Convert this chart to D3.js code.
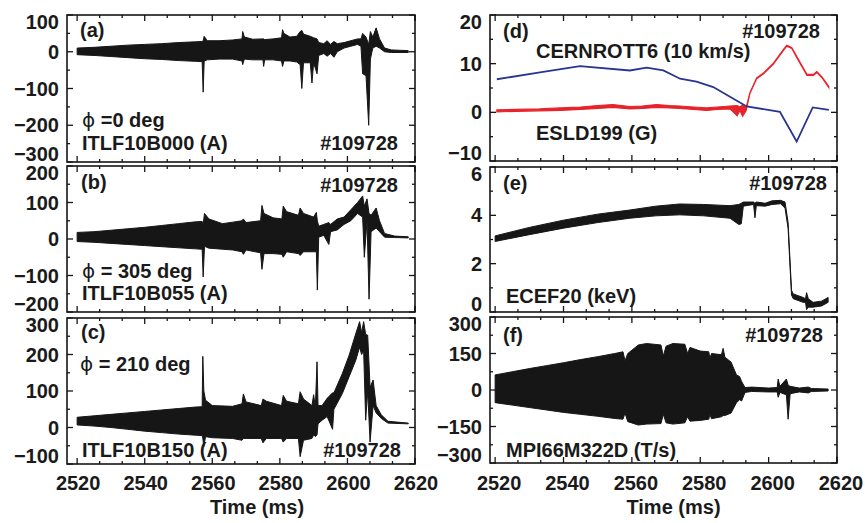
<!DOCTYPE html>
<html>
<head>
<meta charset="utf-8">
<script src="https://cdn.jsdelivr.net/npm/d3@7"></script>
<style>
  body { margin: 0; background: #fff; }
  text { font-family: 'Liberation Sans', Arial, Helvetica, sans-serif; font-weight: bold; fill: #1a1a1a; }
  .phi { font-family: 'DejaVu Sans', sans-serif; font-weight: normal; }
</style>
</head>
<body>
<svg id="chart" width="865" height="523"></svg>
<script>
// ---- data (envelopes of the fast-oscillating signals) ----

// (a) ITLF10B000, phi = 0 deg
const timeA = [2520, 2525, 2530, 2535, 2540, 2545, 2550, 2555, 2557, 2557.3, 2557.6, 2558.5, 2562, 2566, 2568.8, 2569, 2569.5, 2572, 2575, 2575.2, 2575.5, 2578, 2580.5, 2580.8, 2581.2, 2583, 2585, 2586, 2586.5, 2587, 2589, 2589.5, 2590, 2591, 2591.5, 2593, 2594, 2595, 2596, 2597, 2599, 2601, 2603, 2604, 2604.5, 2605.5, 2606.3, 2606.8, 2607.5, 2608.5, 2609.5, 2611, 2613, 2618];
const hiA = [10, 12, 15, 18, 20, 22, 25, 27, 28, 30, 42, 30, 30, 32, 35, 55, 40, 34, 35, 35, 33, 35, 38, 60, 50, 40, 42, 55, 58, 48, 42, 40, 38, 35, 25, 22, 30, 20, 28, 22, 25, 30, 35, 35, 50, 40, 20, 55, 40, 65, 35, 10, 5, 3];
const loA = [-8, -10, -13, -16, -19, -21, -24, -26, -27, -110, -25, -22, -20, -20, -25, -35, -20, -22, -22, -40, -22, -22, -25, -40, -25, -25, -28, -35, -100, -30, -30, -85, -30, -60, -10, -5, -12, -5, -15, 0, 10, 15, 20, 15, -60, -65, -200, -20, 10, 15, 10, 0, -2, -2];

// (b) ITLF10B055, phi = 305 deg
const timeB = [2520, 2525, 2530, 2535, 2540, 2545, 2550, 2555, 2557, 2557.3, 2557.7, 2559, 2563, 2566, 2568.8, 2569.2, 2570, 2574.3, 2574.7, 2575.3, 2578, 2580.6, 2581, 2582, 2585.5, 2586, 2587, 2590, 2590.8, 2591.1, 2591.5, 2593, 2594.5, 2595, 2597, 2599, 2601, 2603, 2604.5, 2605, 2605.8, 2606.4, 2607, 2608.5, 2609.5, 2611, 2614, 2618];
const hiB = [18, 20, 24, 28, 32, 37, 42, 47, 48, 40, 70, 55, 42, 46, 50, 55, 45, 50, 92, 70, 58, 55, 90, 75, 65, 85, 70, 60, 73, 50, 35, 40, 45, 40, 55, 60, 80, 100, 118, 90, 110, 70, 65, 85, 50, 15, 8, 6];
const loB = [-7, -9, -12, -15, -18, -21, -24, -27, -28, -104, -20, -25, -28, -30, -35, -42, -30, -38, -83, -40, -40, -42, -50, -35, -40, -45, -35, -35, -35, -140, 5, 10, -15, 20, 25, 40, 50, 70, 60, -50, 50, -165, 20, 30, 20, 5, 4, 3];

// (c) ITLF10B150, phi = 210 deg
const timeC = [2520, 2525, 2530, 2535, 2540, 2545, 2550, 2555, 2557, 2557.2, 2557.5, 2558, 2560, 2566, 2568.8, 2569.2, 2570, 2574.5, 2575, 2576, 2580.5, 2581, 2582, 2585.5, 2586, 2587, 2589.5, 2590, 2590.5, 2591, 2591.3, 2592.5, 2594, 2595.6, 2596, 2598.5, 2600.5, 2602.5, 2603.6, 2604.2, 2604.8, 2605.4, 2606, 2606.7, 2607.6, 2608.5, 2610, 2612, 2618];
const hiC = [28, 32, 36, 40, 44, 48, 52, 56, 57, 195, 100, 75, 60, 58, 65, 92, 70, 60, 78, 72, 60, 88, 72, 65, 98, 78, 60, 90, 55, 180, 60, 60, 80, 95, 95, 148, 198, 258, 290, 260, 290, 255, 253, 110, 130, 60, 35, 17, 12];
const loC = [7, 4, 0, -5, -10, -14, -18, -21, -22, -30, -52, -25, -28, -30, -35, -30, -30, -30, -42, -30, -30, -40, -30, -30, -80, -35, -30, -20, -25, -20, 10, 20, 30, -5, 50, 93, 139, 185, 220, 200, 210, 20, 100, -40, 60, 40, 25, 12, 10];

// (d) CERNROTT6 (10 km/s), blue
const timeRot = [2520.5, 2533.1, 2544.8, 2559.4, 2564.3, 2569.2, 2574.1, 2578.9, 2583.8, 2588.7, 2593.6, 2603.3, 2608.2, 2612.9, 2617.6];
const rot = [6.8, 8.2, 9.5, 8.6, 9.2, 8.6, 6.9, 6.3, 5.2, 3.2, 1.2, 0.1, -6.0, 1.0, 0.5];

// (d) ESLD199 (G), red
const timeEsld = [2520.5, 2526, 2533, 2539, 2545, 2550, 2554.5, 2559.4, 2563, 2567.2, 2571, 2574.1, 2578, 2581.9, 2585, 2588.7, 2590.8, 2591.6, 2592.4, 2593.4, 2594.5, 2596.5, 2598.5, 2601.4, 2604.3, 2605.3, 2606.8, 2608.2, 2611.2, 2613.1, 2614.1, 2615.6, 2617.6];
const esldHi = [0.5, 0.6, 0.7, 0.9, 1.1, 1.4, 1.6, 1.2, 1.3, 1.6, 1.4, 1.3, 1.1, 0.9, 1.1, 1.3, 1.4, 1.1, 1.5, 0.9, 4.0, 7.1, 8.1, 10.1, 12.9, 13.8, 13.3, 11.5, 7.8, 7.8, 8.4, 7.3, 5.3];
const esldLo = [0.1, 0.2, 0.3, 0.4, 0.6, 0.8, 1.0, 0.7, 0.8, 1.0, 0.9, 0.8, 0.6, 0.4, 0.6, 0.7, -0.7, 0.4, -0.8, 0.3, 3.8, 6.9, 7.9, 9.9, 12.7, 13.6, 13.1, 11.3, 7.6, 7.6, 8.2, 7.1, 5.1];

// (e) ECEF20 (keV)
const timeE = [2520, 2530, 2540, 2550, 2559.4, 2567, 2574, 2581, 2588.7, 2591.3, 2592, 2592.6, 2595.6, 2596, 2596.4, 2599, 2601, 2603.5, 2604.8, 2605.7, 2606.2, 2606.7, 2607.2, 2610.1, 2610.8, 2611.1, 2611.6, 2613, 2615.5, 2617.4];
const hiE = [3.15, 3.5, 3.8, 4.05, 4.22, 4.38, 4.47, 4.45, 4.4, 4.45, 4.5, 4.55, 4.55, 4.5, 4.55, 4.5, 4.6, 4.62, 4.55, 3.7, 2.3, 0.9, 0.75, 0.6, 0.55, 0.8, 0.55, 0.4, 0.45, 0.6];
const loE = [2.92, 3.2, 3.47, 3.7, 3.88, 3.98, 4.02, 3.98, 3.88, 3.62, 3.65, 4.38, 4.45, 3.9, 4.4, 4.38, 4.45, 4.48, 4.3, 3.45, 2.05, 0.7, 0.55, 0.4, 0.4, 0.1, 0.2, 0.2, 0.25, 0.4];

// (f) MPI66M322D (T/s)
const timeF = [2520, 2525, 2530, 2535, 2540, 2545, 2550, 2555, 2557.4, 2558, 2558.8, 2561.9, 2564.3, 2568.5, 2569.2, 2570, 2572, 2575.5, 2576.3, 2577, 2580, 2582.5, 2582.8, 2583.3, 2586.2, 2586.7, 2587.2, 2589, 2590.6, 2591.5, 2592.1, 2593.1, 2595, 2600, 2602.5, 2602.8, 2603.3, 2605.2, 2605.7, 2606.3, 2609, 2611.6, 2612.5, 2617.4];
const hiF = [62, 75, 88, 100, 112, 125, 137, 150, 157, 120, 150, 185, 191, 185, 140, 180, 191, 188, 150, 175, 160, 157, 130, 150, 145, 171, 135, 115, 62, 55, 35, 10, 12, 8, 10, 45, 15, 45, 20, 15, 8, 12, 6, 4];
const loF = [-52, -62, -72, -82, -92, -100, -108, -117, -120, -95, -130, -144, -140, -138, -100, -135, -140, -135, -110, -128, -125, -120, -100, -118, -110, -105, -105, -95, -52, -40, -45, -10, -6, -8, -8, -30, -10, -20, -120, -15, -8, -12, -6, -4];

// axis tick labels
const timeTicks = [2520, 2540, 2560, 2580, 2600, 2620];
const ticksA = [-300, -200, -100, 0, 100];
const ticksB = [-200, -100, 0, 100, 200];
const ticksC = [-100, 0, 100, 200, 300];
const ticksD = [-10, 0, 10, 20];
const ticksE = [0, 2, 4, 6];
const ticksF = [-300, -150, 0, 150, 300];

// ---- layout ----
const svg = d3.select('#chart');
const ink = '#161616';

const xLeft = d3.scaleLinear().domain([2517, 2620]).range([67, 415]);
const xRight = d3.scaleLinear().domain([2518.5, 2620]).range([490, 837]);

const panels = [
  {x: xLeft, top: 15, bottom: 162, ticks: ticksA, minor: 50,
   env: [timeA, hiA, loA],
   labels: [
     {t: '(a)', x: 80, y: 37},
     {t: 'ITLF10B000 (A)', x: 82, y: 150},
     {t: '#109728', x: 398, y: 150, anchor: 'end'}
   ], phi: {t: ' =0 deg', x: 82, y: 127}},
  {x: xLeft, top: 166, bottom: 312, ticks: ticksB, minor: 50,
   env: [timeB, hiB, loB],
   labels: [
     {t: '(b)', x: 81, y: 189},
     {t: '#109728', x: 398, y: 192, anchor: 'end'},
     {t: 'ITLF10B055 (A)', x: 82, y: 300}
   ], phi: {t: ' = 305 deg', x: 82, y: 278}},
  {x: xLeft, top: 318, bottom: 464, ticks: ticksC, minor: 50,
   env: [timeC, hiC, loC],
   labels: [
     {t: '(c)', x: 81, y: 339},
     {t: 'ITLF10B150 (A)', x: 82, y: 457},
     {t: '#109728', x: 401, y: 457, anchor: 'end'}
   ], phi: {t: ' = 210 deg', x: 80, y: 371}},
  {x: xRight, top: 15, bottom: 161, ticks: ticksD, minor: 5,
   labels: [
     {t: '(d)', x: 503, y: 38},
     {t: '#109728', x: 820, y: 38, anchor: 'end'},
     {t: 'CERNROTT6 (10 km/s)', x: 536, y: 58},
     {t: 'ESLD199 (G)', x: 536, y: 140}
   ]},
  {x: xRight, top: 167, bottom: 312, ticks: ticksE, minor: 1,
   env: [timeE, hiE, loE],
   labels: [
     {t: '(e)', x: 503, y: 190},
     {t: '#109728', x: 827, y: 190, anchor: 'end'},
     {t: 'ECEF20 (keV)', x: 506, y: 303}
   ]},
  {x: xRight, top: 317, bottom: 463, ticks: ticksF, minor: 75,
   env: [timeF, hiF, loF],
   labels: [
     {t: '(f)', x: 503, y: 342},
     {t: '#109728', x: 823, y: 342, anchor: 'end'},
     {t: 'MPI66M322D (T/s)', x: 506, y: 457}
   ]}
];

const minorTimes = d3.range(16).map(i => 2520 + i * 20 / 3);

panels.forEach((p, i) => {
  const dom = d3.extent(p.ticks);
  p.y = d3.scaleLinear().domain(dom).range([p.bottom, p.top]);
  const g = svg.append('g');
  const [x0, x1] = p.x.range();

  // signal
  if (p.env) {
    const [t, hi, lo] = p.env;
    const rows = t.map((d, k) => ({t: d, hi: hi[k], lo: lo[k]}));
    const area = d3.area()
        .x(d => p.x(d.t))
        .y0(d => p.y(d.lo))
        .y1(d => p.y(d.hi));
    g.append('path')
        .datum(rows)
        .attr('d', area)
        .attr('fill', ink)
        .attr('stroke', ink)
        .attr('stroke-width', 1)
        .attr('stroke-linejoin', 'round');
  } else {
    // panel (d): rotation (blue) and ESLD (red)
    const esldRows = timeEsld.map((d, k) => ({t: d, hi: esldHi[k], lo: esldLo[k]}));
    g.append('path')
        .datum(esldRows)
        .attr('d', d3.area().x(d => p.x(d.t)).y0(d => p.y(d.lo)).y1(d => p.y(d.hi)))
        .attr('fill', '#e8232b')
        .attr('stroke', '#e8232b')
        .attr('stroke-width', 1.2);
    g.append('path')
        .datum(timeRot.map((d, k) => [d, rot[k]]))
        .attr('d', d3.line().x(d => p.x(d[0])).y(d => p.y(d[1])))
        .attr('fill', 'none')
        .attr('stroke', '#283593')
        .attr('stroke-width', 1.8);
  }

  // frame
  g.append('rect')
      .attr('x', x0).attr('y', p.top)
      .attr('width', x1 - x0).attr('height', p.bottom - p.top)
      .attr('fill', 'none').attr('stroke', ink).attr('stroke-width', 1.6);

  // ticks, pointing inwards on all four sides
  const tickG = g.append('g').attr('stroke', ink).attr('stroke-width', 1.3);
  const xTicks = minorTimes.map(d => ({v: d, len: (Math.round(d) - 2520) % 20 === 0 ? 6 : 3}));
  xTicks.push({v: 2620, len: 6});
  xTicks.forEach(d => {
    const xx = p.x(d.v);
    tickG.append('line').attr('x1', xx).attr('x2', xx).attr('y1', p.bottom).attr('y2', p.bottom - d.len);
    tickG.append('line').attr('x1', xx).attr('x2', xx).attr('y1', p.top).attr('y2', p.top + d.len);
  });
  const yTicks = d3.range(dom[0], dom[1] + p.minor / 2, p.minor);
  yTicks.forEach(v => {
    const yy = p.y(v);
    const len = p.ticks.includes(v) ? 6 : 3;
    tickG.append('line').attr('x1', x0).attr('x2', x0 + len).attr('y1', yy).attr('y2', yy);
    tickG.append('line').attr('x1', x1).attr('x2', x1 - len).attr('y1', yy).attr('y2', yy);
  });

  // y tick labels (end labels nudged inwards, as in the original)
  p.ticks.forEach((v, k) => {
    let yy = p.y(v) + 7;
    if (k === 0) yy -= 8;
    if (k === p.ticks.length - 1) yy += 7;
    g.append('text')
        .attr('x', x0 - 8).attr('y', yy)
        .attr('text-anchor', 'end')
        .style('font-size', '20px')
        .text(v < 0 ? '\u2212' + Math.abs(v) : v);
  });

  // x tick labels and title on bottom row
  if (i === 2 || i === 5) {
    timeTicks.forEach(v => {
      g.append('text')
          .attr('x', p.x(v) + (i === 5 ? 4 : 1)).attr('y', 490)
          .attr('text-anchor', 'middle')
          .style('font-size', '20px')
          .text(v);
    });
    g.append('text')
        .attr('x', (x0 + x1) / 2 + (i === 5 ? 10 : 16)).attr('y', 514)
        .attr('text-anchor', 'middle')
        .style('font-size', '20px')
        .text('Time (ms)');
  }

  // annotations
  p.labels.forEach(l => {
    g.append('text')
        .attr('x', l.x).attr('y', l.y)
        .attr('text-anchor', l.anchor || 'start')
        .style('font-size', '20px')
        .text(l.t);
  });
  if (p.phi) {
    const tx = g.append('text')
        .attr('x', p.phi.x).attr('y', p.phi.y)
        .style('font-size', '20px');
    tx.append('tspan').attr('class', 'phi').text('\u03D5');
    tx.append('tspan').text(p.phi.t);
  }
});
</script>
</body>
</html>
